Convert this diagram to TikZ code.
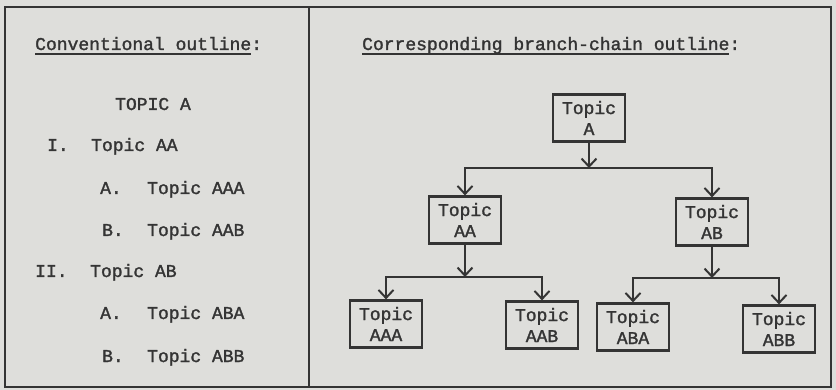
\documentclass[tikz,border=0pt]{standalone}
\usepackage{fontspec}
\usepackage{tikz}
\usetikzlibrary{arrows.meta, positioning}
\newfontfamily\typer[FakeBold=1.6]{Liberation Mono}
\definecolor{paper}{RGB}{222, 222, 219}
\definecolor{ink}{RGB}{52, 52, 52}
% thick typewriter underline
\newcommand\thickul[1]{\setbox0\hbox{#1}\rlap{\rule[-5pt]{\wd0}{1.8pt}}\box0}

\begin{document}
\begin{tikzpicture}[x=1pt, y=-1pt,
			topic/.style={rectangle, draw=ink, line width=2.2pt, text=ink, minimum width=72pt, minimum height=47pt, inner sep=1pt, align=center, font=\typer\fontsize{18}{21}\selectfont},
			outl/.style={anchor=base west, inner sep=0pt, text=ink, font=\typer\fontsize{18}{21}\selectfont},
			link/.style={-{Straight Barb[length=8pt, width=15pt, line width=2pt]}, line width=2pt, draw=ink},
			frame/.style={line width=2.5pt, draw=ink}
		]
		\fill[paper] (0,0) rectangle (836,390);
		\draw[frame] (5,7) rectangle (831,387);
		\draw[frame] (309,7) -- (309,387);
		
		% headings
		\node[outl] (convhead) at (35,50) {\thickul{Conventional outline}:};
		\node[outl] (branchhead) at (362,50) {\thickul{Corresponding branch-chain outline}:};
		
		% conventional outline
		\node[outl] (topA) at (115,110) {TOPIC A};
		\node[outl] (numI) at (47,151) {I.};
		\node[outl] (topAA) at (91,151) {Topic AA};
		\node[outl] (letAAA) at (100,194) {A.};
		\node[outl] (topAAA) at (147,194) {Topic AAA};
		\node[outl] (letAAB) at (102,236) {B.};
		\node[outl] (topAAB) at (147,236) {Topic AAB};
		\node[outl] (numII) at (35,277) {II.};
		\node[outl] (topAB) at (90,277) {Topic AB};
		\node[outl] (letABA) at (100,319) {A.};
		\node[outl] (topABA) at (147,319) {Topic ABA};
		\node[outl] (letABB) at (102,362) {B.};
		\node[outl] (topABB) at (147,362) {Topic ABB};
		
		% branch-chain outline
		\node[topic] (A) at (589,118) {Topic\\A};
		\node[topic] (AA) at (465,220) {Topic\\AA};
		\node[topic] (AB) at (712,222) {Topic\\AB};
		\node[topic] (AAA) at (386,324) {Topic\\AAA};
		\node[topic] (AAB) at (542,325) {Topic\\AAB};
		\node[topic] (ABA) at (633,327) {Topic\\ABA};
		\node[topic] (ABB) at (779,329) {Topic\\ABB};
		
		\coordinate (jA) at (589,168);
		\coordinate (jAA) at (465,277);
		\coordinate (jAB) at (712,278);
		
		\draw[link] (A) -- (jA);
		\draw[link] (jA) -| (AA);
		\draw[link] (jA) -| (AB);
		\draw[link] (AA) -- (jAA);
		\draw[link] (jAA) -| (AAA);
		\draw[link] (jAA) -| (AAB);
		\draw[link] (AB) -- (jAB);
		\draw[link] (jAB) -| (ABA);
		\draw[link] (jAB) -| (ABB);
		\end{tikzpicture}
\end{document}
